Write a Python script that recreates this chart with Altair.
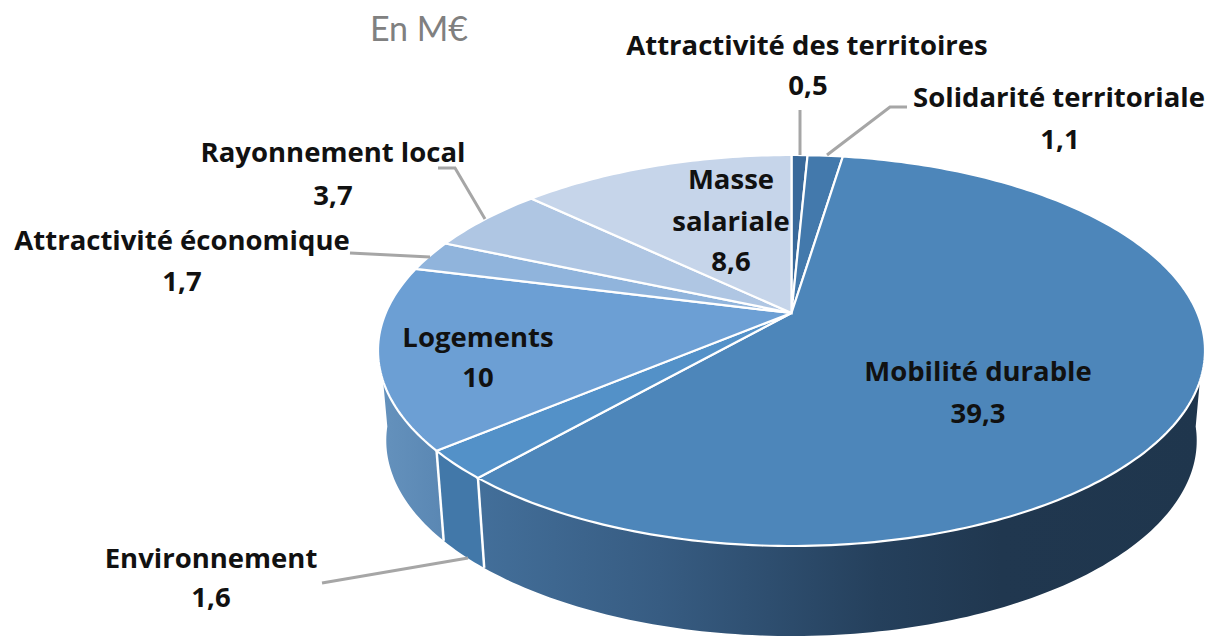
import math
import altair as alt
import pandas as pd

# ---- data (clockwise from 12 o'clock)
names = ["Attractivité des territoires", "Solidarité territoriale", "Mobilité durable", "Environnement",
         "Logements", "Attractivité économique", "Rayonnement local", "Masse salariale"]
values = [0.5, 1.1, 39.3, 1.6, 10, 1.7, 3.7, 8.6]
value_labels = ["0,5", "1,1", "39,3", "1,6", "10", "1,7", "3,7", "8,6"]
top_colors = ["#39699A", "#4379AC", "#4D86BA", "#5391C8", "#6C9FD4", "#90B4DC", "#AFC6E3", "#C6D5EA"]

# ---- layout (page pixels; the page margin is removed below)
OFF = 8
CX, APEX_Y, TOP_Y, BOT_Y, RX = 791.5, 313, 155, 546, 413.5
DEPTH, SHRINK = 90, 0.98

# homography mapping the unit disc on the tilted top face
c = (TOP_Y + BOT_Y - 2 * APEX_Y) / (BOT_Y - TOP_Y)
a = BOT_Y * (1 - c) - APEX_Y
R = RX * math.sqrt(1 - c * c)


def rim(deg, lower=False):
    t = math.radians(deg)
    u, v = math.sin(t), math.cos(t)
    w = 1 + c * v
    x = R * u / w
    y = (APEX_Y - a * v) / w
    if lower:
        x *= SHRINK
        y += DEPTH
    return [CX + x - OFF, y - OFF]


def arc(d0, d1, lower=False):
    n = max(2, int(abs(d1 - d0)) + 1)
    return [rim(d0 + (d1 - d0) * i / n, lower) for i in range(n + 1)]


def feature(kind, coords, name=""):
    return {"type": "Feature", "properties": {"name": name}, "geometry": {"type": kind, "coordinates": coords}}


def geo(features):
    return alt.InlineData(values={"type": "FeatureCollection", "features": features},
                          format=alt.DataFormat(property="features", type="json"))


total = sum(values)
edges = [0.0]
for val in values:
    edges.append(edges[-1] + val / total * 360)

proj = dict(type="identity", scale=1, translate=[0, 0])
layers = []

# ---- side wall
V0, V1 = 97, 263
mob_grad = alt.Gradient(gradient="linear", x1=0, x2=1, y1=0, y2=0, stops=[
    alt.GradientStop(offset=0, color="#436F9A"),
    alt.GradientStop(offset=0.25, color="#375C82"),
    alt.GradientStop(offset=0.55, color="#25405C"),
    alt.GradientStop(offset=0.72, color="#20374F"),
    alt.GradientStop(offset=1, color="#1F364D")])
log_grad = alt.Gradient(gradient="linear", x1=0, x2=1, y1=0, y2=0, stops=[
    alt.GradientStop(offset=0, color="#6592BD"),
    alt.GradientStop(offset=1, color="#5A87B3")])
side_fill = {2: mob_grad, 3: "#4278A9", 4: log_grad}
for i, fill in side_fill.items():
    d0, d1 = max(edges[i], V0), min(edges[i + 1], V1)
    ring = arc(d0, d1) + arc(d1, d0, True)
    ring.append(ring[0])
    layers.append(alt.Chart(geo([feature("Polygon", [ring], names[i])])).mark_geoshape(
        fill=fill, strokeWidth=0).project(**proj))

# white separators on the wall
seps = [feature("LineString", [rim(edges[i]), rim(edges[i], True)]) for i in (3, 4)]
layers.append(alt.Chart(geo(seps)).mark_geoshape(filled=False, stroke="white", strokeWidth=2.5).project(**proj))

# ---- top face
tops = []
for i, n in enumerate(names):
    ring = [[CX - OFF, APEX_Y - OFF]] + arc(edges[i], edges[i + 1])
    ring.append(ring[0])
    tops.append(feature("Polygon", [ring], n))
layers.append(alt.Chart(geo(tops)).mark_geoshape(stroke="white", strokeWidth=2.2).encode(
    color=alt.Color("properties.name:N", scale=alt.Scale(domain=names, range=top_colors), legend=None)
).project(**proj))

# ---- leader lines
leaders = [
    [(800, 110), (800, 155)],
    [(907, 107), (890, 107), (827, 155)],
    [(438, 168), (455, 168), (485, 219)],
    [(350, 253), (430, 257)],
    [(322, 583), (468, 558)],
]
leader_f = [feature("LineString", [[x - OFF, y - OFF] for x, y in line]) for line in leaders]
layers.append(alt.Chart(geo(leader_f)).mark_geoshape(filled=False, stroke="#A6A6A6", strokeWidth=3).project(**proj))

# ---- labels
lab = [
    ("Attractivité des territoires", 807, 47), (value_labels[0], 808, 87),
    ("Solidarité territoriale", 1059, 99), (value_labels[1], 1060, 141),
    ("Rayonnement local", 333, 154), (value_labels[6], 333, 197),
    ("Attractivité économique", 182, 242), (value_labels[5], 182, 283),
    ("Masse", 731, 181), ("salariale", 731, 223), (value_labels[7], 731, 263),
    ("Logements", 478, 339), (value_labels[4], 478, 379),
    ("Mobilité durable", 978, 373), (value_labels[2], 978, 415),
    ("Environnement", 211, 560), (value_labels[3], 211, 599),
]
df = pd.DataFrame([{"t": t, "px": x - OFF, "py": y - OFF} for t, x, y in lab])
layers.append(alt.Chart(df).mark_text(font="Open Sans", fontWeight="bold", fontSize=27.5, color="#111111",
                                      align="center", baseline="middle").encode(
    x=alt.X("px:Q", scale=None), y=alt.Y("py:Q", scale=None), text="t:N"))
title_df = pd.DataFrame([{"t": "En M€", "px": 419 - OFF, "py": 31 - OFF}])
layers.append(alt.Chart(title_df).mark_text(font="Lato", fontSize=34, color="#808080",
                                            align="center", baseline="middle").encode(
    x=alt.X("px:Q", scale=None), y=alt.Y("py:Q", scale=None), text="t:N"))

chart = alt.layer(*layers).properties(
    width=1197, height=629, padding=0, autosize=alt.AutoSizeParams(type="none"), background="white"
).configure_view(stroke=None)

chart.save("out.html", embed_options={"renderer": "svg", "actions": False})
